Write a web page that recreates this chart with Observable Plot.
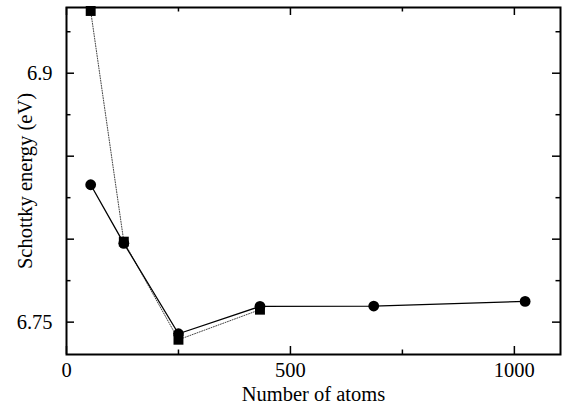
<!DOCTYPE html>
<html>
<head>
<meta charset="utf-8">
<script src="https://cdn.jsdelivr.net/npm/d3@7"></script>
<script src="https://cdn.jsdelivr.net/npm/@observablehq/plot@0.6"></script>
<style>
  html, body { margin: 0; padding: 0; background: #fff; }
  svg, svg text { font-family: "Liberation Serif", "Times New Roman", serif !important; }
</style>
</head>
<body>
<div id="chart"></div>
<script>
// Data
const atoms = [54, 128, 250, 432, 686, 1024];
const energyCircle = [6.8328, 6.7975, 6.7430, 6.7595, 6.7597, 6.7625];
const atomsSquare = [54, 128, 250, 432];
const energySquare = [6.9375, 6.7985, 6.7394, 6.7575];

const xMajor = [0, 500, 1000];
const xMinor = [250, 750];
const yMajor = [6.75, 6.8, 6.85, 6.9];
const yMinor = [6.775, 6.825, 6.875, 6.925];
const yLabels = [6.75, 6.9];
const yLabelText = ["6.75", "6.9"];

const circles = atoms.map((a, i) => ({x: a, y: energyCircle[i]}));
const squares = atomsSquare.map((a, i) => ({x: a, y: energySquare[i]}));

const W = 562, H = 407;
const mL = 66, mR = 2, mT = 7, mB = 53;
const iW = W - mL - mR, iH = H - mT - mB;
const majorLen = 8, minorLen = 4.5;
const FS = 20.5;
const FF = '"Liberation Serif", "Times New Roman", serif';

const chart = Plot.plot({
  width: W,
  height: H,
  marginLeft: mL,
  marginRight: mR,
  marginTop: mT,
  marginBottom: mB,
  style: {fontFamily: FF, fontSize: FS + "px", color: "#000", background: "#fff"},
  x: {domain: [0, 1103]},
  y: {domain: [6.7305, 6.9396]},
  marks: [
    // tick labels
    Plot.axisX(xMajor, {anchor: "bottom", tickSize: 0, tickPadding: 8, label: null, fontSize: FS, fontFamily: FF, fontVariant: "normal", tickFormat: d => String(d)}),
    Plot.axisY(yLabels, {anchor: "left", tickSize: 0, tickPadding: 14, label: null, fontSize: FS, fontFamily: FF, fontVariant: "normal", tickFormat: d => yLabelText[yLabels.indexOf(d)]}),
    // inward ticks: bottom & top
    Plot.ruleX(xMajor, {x: d => d, insetTop: iH - majorLen, stroke: "#000", strokeWidth: 1.5}),
    Plot.ruleX(xMajor, {x: d => d, insetBottom: iH - majorLen, stroke: "#000", strokeWidth: 1.5}),
    Plot.ruleX(xMinor, {x: d => d, insetTop: iH - minorLen, stroke: "#000", strokeWidth: 1.5}),
    Plot.ruleX(xMinor, {x: d => d, insetBottom: iH - minorLen, stroke: "#000", strokeWidth: 1.5}),
    // inward ticks: left & right
    Plot.ruleY(yMajor, {y: d => d, insetRight: iW - majorLen, stroke: "#000", strokeWidth: 1.5}),
    Plot.ruleY(yMajor, {y: d => d, insetLeft: iW - majorLen, stroke: "#000", strokeWidth: 1.5}),
    Plot.ruleY(yMinor, {y: d => d, insetRight: iW - minorLen, stroke: "#000", strokeWidth: 1.5}),
    Plot.ruleY(yMinor, {y: d => d, insetLeft: iW - minorLen, stroke: "#000", strokeWidth: 1.5}),
    Plot.frame({stroke: "#000", strokeWidth: 2}),
    // series
    Plot.line(squares, {x: "x", y: "y", stroke: "#444", strokeWidth: 1, strokeDasharray: "1,1.5"}),
    Plot.line(circles, {x: "x", y: "y", stroke: "#000", strokeWidth: 1.3}),
    Plot.dot(squares, {x: "x", y: "y", symbol: "square", r: 5.6, fill: "#000", stroke: "none"}),
    Plot.dot(circles, {x: "x", y: "y", symbol: "circle", r: 5.4, fill: "#000", stroke: "none"}),
    // axis titles
    Plot.text(["Number of atoms"], {frameAnchor: "bottom", dy: 46, lineAnchor: "bottom", textAnchor: "middle", text: d => d, fontSize: FS, fontFamily: FF, fill: "#000"}),
    Plot.text(["Schottky energy (eV)"], {frameAnchor: "left", dx: -35, rotate: -90, lineAnchor: "bottom", textAnchor: "middle", text: d => d, fontSize: FS, fontFamily: FF, fill: "#000"})
  ]
});
document.getElementById("chart").appendChild(chart);
</script>
</body>
</html>
